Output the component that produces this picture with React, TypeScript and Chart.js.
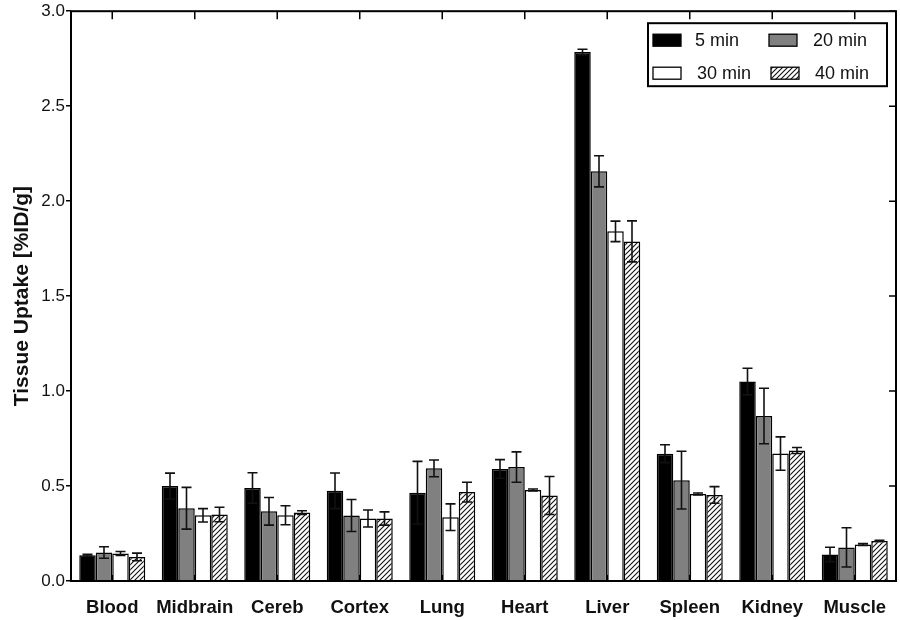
import React, { useEffect, useRef } from "react";
import { Chart, registerables } from "chart.js";

Chart.register(...registerables);

const categories = ["Blood", "Midbrain", "Cereb", "Cortex", "Lung", "Heart", "Liver", "Spleen", "Kidney", "Muscle"];
const seriesNames = ["5 min", "20 min", "30 min", "40 min"];

const mean5 = [0.135, 0.5, 0.49, 0.475, 0.465, 0.59, 2.785, 0.67, 1.05, 0.14];
const err5 = [0.005, 0.068, 0.08, 0.094, 0.165, 0.049, 0.015, 0.047, 0.07, 0.038];
const mean20 = [0.15, 0.383, 0.367, 0.345, 0.593, 0.6, 2.157, 0.531, 0.869, 0.177];
const err20 = [0.03, 0.11, 0.073, 0.084, 0.044, 0.08, 0.082, 0.152, 0.146, 0.103];
const mean30 = [0.145, 0.346, 0.346, 0.329, 0.336, 0.479, 1.841, 0.458, 0.671, 0.192];
const err30 = [0.01, 0.035, 0.05, 0.045, 0.07, 0.005, 0.054, 0.005, 0.088, 0.005];
const mean40 = [0.127, 0.35, 0.36, 0.329, 0.468, 0.45, 1.788, 0.453, 0.687, 0.211];
const err40 = [0.02, 0.038, 0.01, 0.035, 0.052, 0.1, 0.108, 0.044, 0.016, 0.003];

const yTicks = [0, 0.5, 1.0, 1.5, 2.0, 2.5, 3.0];

const FONT = "Arial, 'Liberation Sans', Helvetica, sans-serif";

function makeHatch(): CanvasPattern | string {
  const c = document.createElement("canvas");
  const s = 5;
  c.width = s;
  c.height = s;
  const g = c.getContext("2d");
  if (!g) return "#fff";
  g.fillStyle = "#fff";
  g.fillRect(0, 0, s, s);
  g.strokeStyle = "#111";
  g.lineWidth = 1.1;
  g.beginPath();
  g.moveTo(-1, s + 1);
  g.lineTo(s + 1, -1);
  g.moveTo(-1, 1);
  g.lineTo(1, -1);
  g.moveTo(s - 1, s + 1);
  g.lineTo(s + 1, s - 1);
  g.stroke();
  const p = g.createPattern(c, "repeat");
  return p || "#fff";
}

export default function App() {
  const ref = useRef<HTMLCanvasElement | null>(null);

  useEffect(() => {
    if (!ref.current) return;
    const hatch = makeHatch();
    const fills: any[] = ["#000000", "#808080", "#ffffff", hatch];
    const means = [mean5, mean20, mean30, mean40];
    const errs = [err5, err20, err30, err40];

    const errorBars = {
      id: "errorBars",
      afterDatasetsDraw(chart: any) {
        const ctx = chart.ctx;
        const y = chart.scales.y;
        ctx.save();
        ctx.strokeStyle = "#111";
        ctx.lineWidth = 1.6;
        chart.data.datasets.forEach((ds: any, i: number) => {
          const meta = chart.getDatasetMeta(i);
          meta.data.forEach((el: any, j: number) => {
            const v = ds.data[j];
            const e = errs[i][j];
            const top = y.getPixelForValue(v + e);
            const bot = y.getPixelForValue(v - e);
            const x = el.x;
            const cap = 5;
            ctx.beginPath();
            ctx.moveTo(x, top);
            ctx.lineTo(x, bot);
            ctx.moveTo(x - cap, top);
            ctx.lineTo(x + cap, top);
            ctx.moveTo(x - cap, bot);
            ctx.lineTo(x + cap, bot);
            ctx.stroke();
          });
        });
        ctx.restore();
      },
    };

    const frame = {
      id: "frame",
      afterDraw(chart: any) {
        const ctx = chart.ctx;
        const a = chart.chartArea;
        const xs = chart.scales.x;
        const ys = chart.scales.y;
        ctx.save();
        ctx.strokeStyle = "#000";
        ctx.lineWidth = 2;
        ctx.strokeRect(a.left, a.top, a.right - a.left, a.bottom - a.top);
        ctx.lineWidth = 1.5;
        ctx.beginPath();
        categories.forEach((_, i) => {
          const x = xs.getPixelForTick(i);
          ctx.moveTo(x, a.top);
          ctx.lineTo(x, a.top + 8);
          ctx.moveTo(x, a.bottom);
          ctx.lineTo(x, a.bottom - 6);
        });
        yTicks.forEach((v) => {
          const yy = ys.getPixelForValue(v);
          ctx.moveTo(a.right, yy);
          ctx.lineTo(a.right - 7, yy);
        });
        ctx.stroke();

        // legend
        const L = a.right - 248;
        const T = a.top + 12;
        const W = 239;
        const H = 63;
        ctx.lineWidth = 2;
        ctx.fillStyle = "#fff";
        ctx.fillRect(L, T, W, H);
        ctx.strokeRect(L, T, W, H);
        const pos = [
          [L + 5, T + 17, L + 47],
          [L + 121, T + 17, L + 165],
          [L + 5, T + 50, L + 49],
          [L + 123, T + 50, L + 167],
        ];
        ctx.font = `18px ${FONT}`;
        ctx.textBaseline = "middle";
        ctx.textAlign = "left";
        seriesNames.forEach((name, i) => {
          const [sx, sy, tx] = pos[i];
          ctx.fillStyle = fills[i];
          ctx.fillRect(sx, sy - 6, 28, 12);
          ctx.lineWidth = 1.3;
          ctx.strokeStyle = "#000";
          ctx.strokeRect(sx, sy - 6, 28, 12);
          ctx.fillStyle = "#111";
          ctx.fillText(name, tx, sy + 1);
        });
        ctx.restore();
      },
    };

    const chart = new Chart(ref.current, {
      type: "bar",
      data: {
        labels: categories,
        datasets: seriesNames.map((n, i) => ({
          label: n,
          data: means[i],
          backgroundColor: fills[i],
          borderColor: "#000",
          borderWidth: 1.5,
          categoryPercentage: 0.8,
          barPercentage: 1.0,
        })),
      },
      options: {
        responsive: true,
        maintainAspectRatio: false,
        animation: false,
        layout: { padding: { top: 10, right: 4, left: 0, bottom: 0 } },
        plugins: {
          legend: { display: false },
          tooltip: { enabled: false },
        },
        scales: {
          x: {
            grid: { display: false },
            border: { display: false },
            ticks: {
              color: "#111",
              padding: 8,
              maxRotation: 0,
              autoSkip: false,
              font: { family: FONT, size: 18.5, weight: "bold" },
            },
            afterFit: (s: any) => {
              s.height = 39;
            },
          },
          y: {
            min: 0,
            max: 3,
            grid: {
              drawOnChartArea: false,
              drawTicks: true,
              tickLength: 5,
              color: "#000",
              lineWidth: 1.5,
            },
            border: { display: false },
            ticks: {
              stepSize: 0.5,
              color: "#111",
              padding: 1,
              font: { family: FONT, size: 17 },
              callback: (v: any) => Number(v).toFixed(1),
            },
            title: {
              display: true,
              text: "Tissue Uptake [%ID/g]",
              color: "#111",
              font: { family: FONT, size: 21, weight: "bold" },
              padding: { top: 10, bottom: 0 },
            },
            afterFit: (s: any) => {
              s.width = 71;
            },
          },
        },
      },
      plugins: [errorBars, frame],
    });
    return () => chart.destroy();
  }, []);

  return (
    <div style={{ position: "fixed", left: 0, top: 0, width: 900, height: 620, background: "#fff" }}>
      <canvas ref={ref} />
    </div>
  );
}
